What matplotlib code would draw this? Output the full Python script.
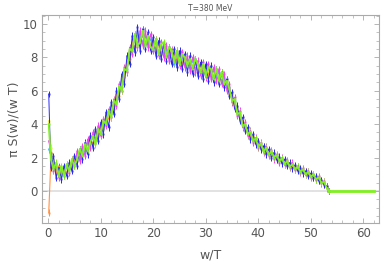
import numpy as np
import matplotlib
matplotlib.use("Agg")
import matplotlib.pyplot as plt
from matplotlib.ticker import MultipleLocator

# sampling grid in w/T (first point sits on the spike near zero)
x = np.r_[0.1, np.arange(0.5, 53.6, 0.5)]
# flat tail beyond the cut-off
x_tail = [53.5, 62.0]
y_tail = [0.0, 0.0]
# statistical error drawn on every point
err = 0.2

blue = [5.8, 1.4, 2.1, 0.8, 1.4, 0.7, 1.5, 0.9, 1.7, 1.2,
        2.1, 1.5, 2.5, 1.9, 2.9, 2.2, 3.3, 2.6, 3.7, 3.0,
        4.1, 3.4, 4.7, 3.8, 5.3, 4.6, 6.0, 5.5, 7.0, 6.4,
        8.1, 7.6, 9.3, 8.3, 9.8, 8.4, 9.7, 8.5, 9.5, 8.4,
        9.2, 8.1, 9.0, 7.9, 8.8, 7.8, 8.6, 7.6, 8.5, 7.4,
        8.4, 7.3, 8.2, 7.1, 8.1, 7.0, 7.9, 6.9, 7.7, 6.7,
        7.6, 6.6, 7.5, 6.5, 7.3, 6.4, 7.1, 6.2, 6.7, 5.7,
        5.9, 4.9, 5.1, 4.2, 4.4, 3.6, 3.8, 3.1, 3.4, 2.8,
        3.0, 2.5, 2.7, 2.2, 2.5, 2.0, 2.3, 1.85, 2.05, 1.65,
        1.9, 1.5, 1.7, 1.35, 1.55, 1.2, 1.35, 1.05, 1.2, 0.92,
        1.05, 0.78, 0.88, 0.6, 0.66, 0.38, 0.3, 0.0]

magenta = [3.0, 2.3, 1.2, 1.6, 0.8, 1.4, 0.9, 1.6, 1.1, 1.9,
           1.5, 2.4, 1.8, 2.7, 2.1, 3.1, 2.6, 3.5, 2.9, 3.9,
           3.3, 4.3, 3.9, 4.9, 4.4, 5.5, 5.1, 6.4, 6.0, 7.4,
           7.1, 8.6, 8.2, 9.4, 8.6, 9.6, 8.7, 9.6, 8.6, 9.4,
           8.4, 9.1, 8.1, 8.9, 8.0, 8.7, 7.8, 8.5, 7.7, 8.4,
           7.5, 8.3, 7.4, 8.1, 7.2, 8.0, 7.1, 7.8, 6.9, 7.7,
           6.8, 7.6, 6.7, 7.4, 6.6, 7.3, 6.4, 7.0, 6.0, 6.4,
           5.3, 5.6, 4.5, 4.8, 3.8, 4.1, 3.3, 3.6, 2.9, 3.2,
           2.6, 2.9, 2.3, 2.65, 2.1, 2.45, 1.9, 2.2, 1.7, 2.0,
           1.55, 1.85, 1.4, 1.7, 1.25, 1.5, 1.1, 1.35, 0.95, 1.2,
           0.8, 1.02, 0.65, 0.88, 0.45, 0.6, 0.15, 0.0]

orange = [-1.3, 1.8, 1.4, 1.1, 1.5, 1.0, 1.3, 1.1, 1.6, 1.4,
          1.9, 1.8, 2.4, 2.2, 2.7, 2.5, 3.2, 2.8, 3.6, 3.3,
          3.9, 3.7, 4.5, 4.3, 5.0, 4.9, 5.8, 5.7, 6.7, 6.8,
          7.8, 7.9, 8.9, 8.6, 9.3, 8.9, 9.4, 8.8, 9.3, 8.7,
          9.0, 8.5, 8.8, 8.2, 8.6, 8.1, 8.5, 7.9, 8.3, 7.8,
          8.1, 7.6, 8.0, 7.5, 7.8, 7.4, 7.7, 7.2, 7.5, 7.1,
          7.4, 6.9, 7.3, 6.8, 7.2, 6.6, 7.0, 6.4, 6.6, 5.8,
          5.8, 5.0, 5.0, 4.3, 4.3, 3.7, 3.7, 3.2, 3.3, 2.85,
          2.95, 2.55, 2.65, 2.3, 2.45, 2.1, 2.25, 1.9, 2.0, 1.72,
          1.82, 1.58, 1.65, 1.42, 1.5, 1.25, 1.32, 1.1, 1.15, 0.98,
          1.0, 0.82, 0.85, 0.64, 0.64, 0.4, 0.28, 0.0]

cyan = [2.5, 2.2, 1.5, 1.2, 1.2, 0.9, 1.3, 1.4, 1.3, 1.7,
        1.7, 2.2, 2.0, 2.5, 2.3, 2.9, 2.7, 3.3, 3.1, 3.7,
        3.4, 4.1, 4.0, 4.7, 4.6, 5.3, 5.3, 6.2, 6.2, 7.2,
        7.3, 8.4, 8.4, 9.1, 8.8, 9.3, 8.9, 9.3, 8.8, 9.1,
        8.6, 8.9, 8.3, 8.7, 8.2, 8.5, 8.0, 8.3, 7.6, 8.2,
        7.7, 8.0, 7.6, 7.9, 7.4, 7.8, 7.3, 7.6, 7.1, 7.5,
        7.0, 7.4, 6.9, 7.2, 6.8, 7.1, 6.6, 6.8, 6.2, 6.2,
        5.5, 5.4, 4.7, 4.6, 4.0, 3.95, 3.45, 3.45, 3.05, 3.05,
        2.7, 2.75, 2.4, 2.5, 2.2, 2.3, 2.02, 2.1, 1.82, 1.88,
        1.65, 1.72, 1.48, 1.55, 1.33, 1.4, 1.18, 1.25, 1.03, 1.1,
        0.9, 0.95, 0.74, 0.78, 0.55, 0.5, 0.22, 0.0]

yellow = [4.2, 2.6, 1.9, 1.5, 1.0, 1.3, 1.0, 1.4, 1.5, 1.5,
          1.8, 2.0, 2.1, 2.5, 2.4, 2.8, 2.9, 3.2, 3.3, 3.5,
          3.7, 4.0, 4.3, 4.6, 4.9, 5.2, 5.6, 6.0, 6.5, 7.0,
          7.6, 8.2, 8.7, 9.0, 9.2, 9.2, 9.2, 9.1, 9.1, 9.0,
          8.9, 8.7, 8.6, 8.5, 8.4, 8.3, 8.3, 8.1, 8.1, 8.0,
          7.9, 7.9, 7.8, 7.7, 7.6, 7.6, 7.5, 7.4, 7.3, 7.3,
          7.2, 7.2, 7.1, 7.0, 7.0, 6.9, 6.8, 6.7, 6.4, 6.1,
          5.6, 5.3, 4.8, 4.5, 4.1, 3.85, 3.55, 3.4, 3.15, 3.0,
          2.8, 2.7, 2.5, 2.45, 2.3, 2.25, 2.1, 2.05, 1.9, 1.85,
          1.72, 1.68, 1.55, 1.5, 1.4, 1.35, 1.25, 1.2, 1.1, 1.05,
          0.95, 0.9, 0.8, 0.72, 0.6, 0.47, 0.25, 0.0]

green = [4.0, 1.9, 1.3, 1.7, 0.9, 1.5, 0.9, 1.6, 1.2, 1.9,
         1.5, 1.9, 2.5, 2.1, 2.8, 2.4, 2.9, 3.3, 2.8, 3.7,
         3.4, 4.2, 4.0, 4.8, 4.4, 5.4, 5.2, 6.3, 6.0, 7.3,
         7.2, 8.5, 8.4, 9.4, 8.7, 8.9, 9.6, 8.7, 9.3, 8.6,
         8.5, 9.1, 8.2, 8.8, 8.9, 8.0, 8.6, 8.4, 7.7, 8.4,
         7.6, 8.2, 8.0, 7.5, 7.9, 7.3, 7.9, 7.6, 7.1, 7.6,
         6.9, 7.4, 7.3, 6.7, 7.3, 6.6, 7.1, 6.4, 6.6, 6.1,
         5.4, 5.5, 4.6, 4.7, 3.9, 4.0, 3.4, 3.55, 3.0, 3.15,
         2.65, 2.85, 2.35, 2.6, 2.15, 2.4, 2.0, 2.15, 1.8, 1.95,
         1.6, 1.8, 1.45, 1.62, 1.3, 1.45, 1.15, 1.3, 1.0, 1.15,
         0.85, 1.0, 0.7, 0.82, 0.5, 0.55, 0.2, 0.0]

series = [(yellow, "#e6e632", 0.8), (cyan, "#45b4ff", 0.8),
          (orange, "#ff9040", 0.8), (magenta, "#f040f0", 0.7),
          (blue, "#2828f0", 0.7), (green, "#80f020", 1.3)]

GRAY = "#555555"
FRAME = "#aaaaaa"

fig = plt.figure(figsize=(3.81, 2.71), dpi=100)
ax = fig.add_axes([0.110, 0.177, 0.885, 0.768])

ax.axhline(0, color="#dddddd", lw=1.2, zorder=1)
for ys, c, w in series:
    ax.errorbar(x, ys, yerr=err, fmt="-", color=c, lw=w, marker="s",
                ms=1.4, mew=0, elinewidth=0.7, capsize=0, zorder=2)
ax.plot(x_tail, y_tail, "-", color="#80f020", lw=2.0, zorder=3)

ax.set_xlim(-1.2, 63.0)
ax.set_ylim(-1.92, 10.54)
ax.xaxis.set_major_locator(MultipleLocator(10))
ax.xaxis.set_minor_locator(MultipleLocator(2))
ax.yaxis.set_major_locator(MultipleLocator(2))
ax.yaxis.set_minor_locator(MultipleLocator(0.5))
ax.tick_params(which="both", direction="in", top=True, right=True,
               color=FRAME, labelcolor=GRAY, labelsize=8.5, pad=3)
ax.tick_params(which="major", length=3.5, width=0.6)
ax.tick_params(which="minor", length=2, width=0.5)
for s in ax.spines.values():
    s.set_color(FRAME)
    s.set_linewidth(0.8)

ax.set_xlabel("w/T", color=GRAY, fontsize=9, labelpad=6)
ax.set_ylabel("π S(w)/(w T)", color=GRAY, fontsize=9, labelpad=2)
ax.set_title("T=380 MeV", color=GRAY, fontsize=5.5, pad=3)

fig.savefig("out.png", dpi=100)
